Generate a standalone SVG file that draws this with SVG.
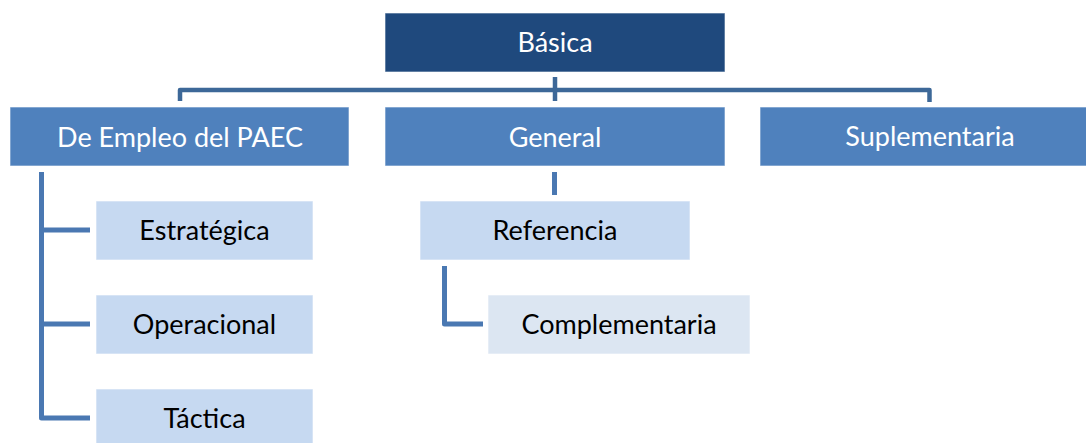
<svg xmlns="http://www.w3.org/2000/svg" width="1086" height="443" viewBox="0 0 1086 443">
<style>
.box{stroke:#ffffff;stroke-opacity:0.6;stroke-width:1}
.dark{fill:#1F497D}
.mid{fill:#4F81BD}
.light{fill:#C6D9F1}
.pale{fill:#DCE6F2}
text{font-family:Lato,"Liberation Sans",sans-serif;font-size:27px;text-anchor:middle}
.w{fill:#ffffff}
.k{fill:#000000}
.c1{fill:none;stroke:#3D6898;stroke-width:4.5;stroke-linejoin:round}
.c2{fill:none;stroke:#4A78B2;stroke-width:5;stroke-linejoin:round}
</style>
<rect width="1086" height="443" fill="#ffffff"/>
<g id="connectors">
<path class="c1" d="M180,101 V90 H929.5 V102"/>
<path class="c1" d="M555,77 V101"/>
<path class="c2" d="M41.5,172 V418 H90"/>
<path class="c2" d="M41.5,230 H90"/>
<path class="c2" d="M41.5,324 H90"/>
<path class="c2" d="M554.5,172 V195"/>
<path class="c2" d="M444.5,266 V324 H483"/>
</g>
<g id="basica"><rect class="box dark" x="385" y="13" width="340" height="59"/><text class="w" x="555" y="52">Básica</text></g>
<g id="empleo"><rect class="box mid" x="10" y="107" width="339" height="59"/><text class="w" x="180" y="147">De Empleo del PAEC</text></g>
<g id="general"><rect class="box mid" x="385" y="107" width="340" height="59"/><text class="w" x="555" y="147">General</text></g>
<g id="suplementaria"><rect class="box mid" x="760" y="107" width="340" height="59"/><text class="w" x="930" y="146">Suplementaria</text></g>
<g id="estrategica"><rect class="box light" x="96" y="201" width="217" height="59"/><text class="k" x="204.5" y="240">Estratégica</text></g>
<g id="operacional"><rect class="box light" x="96" y="295" width="217" height="59"/><text class="k" x="204.5" y="334">Operacional</text></g>
<g id="tactica"><rect class="box light" x="96" y="389" width="217" height="59"/><text class="k" x="204.5" y="428">Táctica</text></g>
<g id="referencia"><rect class="box light" x="420" y="201" width="270" height="59"/><text class="k" x="555" y="240">Referencia</text></g>
<g id="complementaria"><rect class="box pale" x="488" y="295" width="262" height="59"/><text class="k" x="619" y="334">Complementaria</text></g>
</svg>
